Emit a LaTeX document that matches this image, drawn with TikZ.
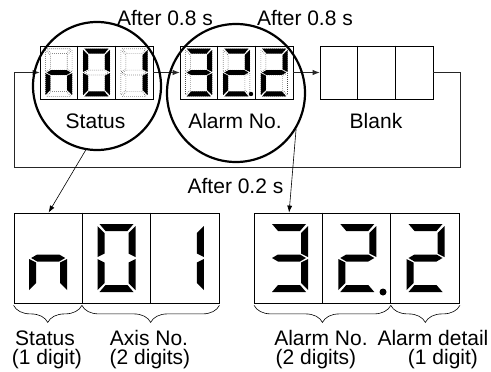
\documentclass[tikz,border=0pt]{standalone}
\usepackage{fontspec}
\setmainfont{Liberation Sans}
\usetikzlibrary{arrows.meta}
\usetikzlibrary{decorations.pathreplacing}

% seven segment outlines, digit box 38 x 68, y downwards
\newcommand{\sega}{(2,0) -- (36,0) -- (30,7) -- (8,7) -- cycle}
\newcommand{\segb}{(38,2) -- (38,33) -- (31,29.5) -- (31,9) -- cycle}
\newcommand{\segc}{(38,35) -- (38,66) -- (31,59) -- (31,38.5) -- cycle}
\newcommand{\segd}{(2,68) -- (36,68) -- (30,61) -- (8,61) -- cycle}
\newcommand{\sege}{(0,35) -- (0,66) -- (7,59) -- (7,38.5) -- cycle}
\newcommand{\segf}{(0,2) -- (0,33) -- (7,29.5) -- (7,9) -- cycle}
\newcommand{\segg}{(2,34) -- (8,30.5) -- (30,30.5) -- (36,34) -- (30,37.5) -- (8,37.5) -- cycle}

% big digit: position, lit segments
\newcommand{\bigled}[2]{%
  \begin{scope}[shift={#1}]
    \foreach \s in {#2} {\fill[segon] \csname seg\s\endcsname;}
  \end{scope}}
% small digit: all segments dotted, lit ones filled
\newcommand{\smallled}[2]{%
  \begin{scope}[shift={#1}, scale=0.7]
    \foreach \s in {a,b,c,d,e,f,g} {\draw[segoff] \csname seg\s\endcsname;}
    \foreach \s in {#2} {\fill[segon] \csname seg\s\endcsname;}
  \end{scope}}

\begin{document}
\begin{tikzpicture}[x=1pt, y=-1pt,
txt/.style={font=\fontsize{21}{24}\selectfont, inner sep=0pt, anchor=base},
panel/.style={draw, line width=0.8pt, minimum width=113pt, minimum height=53pt, inner sep=0pt},
bigpanel/.style={draw, line width=0.8pt, minimum width=205pt, minimum height=90pt, inner sep=0pt},
flow/.style={line width=0.8pt, draw=black!85, -{Latex[length=7pt, width=5.5pt]}},
pointer/.style={line width=0.6pt, -{Latex[length=7pt, width=5pt]}},
zoomring/.style={circle, draw, line width=2.2pt, inner sep=0pt},
brc/.style={decorate, decoration={brace, mirror, amplitude=17pt}, line width=0.6pt},
segon/.style={fill=black},
segoff/.style={draw=black!70, line width=0.6pt, dash pattern=on 0.6pt off 1.4pt}
]
\useasboundingbox (0,0) rectangle (491,372);

% small displays
\node[panel] (status) at (96.5,72.5) {};
\node[panel] (alarm) at (236.5,72.5) {};
\node[panel] (blank) at (376.5,72.5) {};
\foreach \p in {status,alarm,blank} {
  \draw[line width=0.8pt] ([xshift=37.7pt]\p.north west) -- ([xshift=37.7pt]\p.south west);
  \draw[line width=0.8pt] ([xshift=75.3pt]\p.north west) -- ([xshift=75.3pt]\p.south west);
}
\smallled{(45.5,48.7)}{c,e,g}
\smallled{(83.2,48.7)}{a,b,c,d,e,f}
\smallled{(120.9,48.7)}{b,c}
\smallled{(185.5,48.7)}{a,b,c,d,g}
\smallled{(223.2,48.7)}{a,b,d,e,g}
\smallled{(260.9,48.7)}{a,b,d,e,g}
\fill (251,94) circle (2.2pt);

\node[txt] (after1) at (165,26) {After 0.8 s};
\node[txt] (after2) at (305,26) {After 0.8 s};
\node[txt] (statuslabel) at (95.5,128) {Status};
\node[txt] (alarmlabel) at (235,128) {Alarm No.};
\node[txt] (blanklabel) at (376,128) {Blank};
\node[txt] (after3) at (235.5,193) {After 0.2 s};

% flow between displays
\coordinate (loopturn) at (14,167);
\draw[flow] (status.east) -- (alarm.west);
\draw[flow] (alarm.east) -- (blank.west);
\draw[flow] (blank.east) -- ++(27,0) |- (loopturn) |- (status.west);

\node[zoomring, minimum size=128pt] (statusring) at (97,86) {};
\node[zoomring, minimum size=138pt] (alarmring) at (236,93) {};

% enlarged displays
\node[bigpanel] (statusbig) at (116.5,258) {};
\node[bigpanel] (alarmbig) at (357,258) {};
\foreach \p in {statusbig,alarmbig} {
  \draw[line width=0.8pt] ([xshift=68.3pt]\p.north west) -- ([xshift=68.3pt]\p.south west);
  \draw[line width=0.8pt] ([xshift=136.7pt]\p.north west) -- ([xshift=136.7pt]\p.south west);
}
\bigled{(29.2,224)}{c,e,g}
\bigled{(97.5,224)}{a,b,c,d,e,f}
\bigled{(165.8,224)}{b,c}
\bigled{(270,224)}{a,b,c,d,g}
\bigled{(338.3,224)}{a,b,d,e,g}
\bigled{(406.5,224)}{a,b,d,e,g}
\fill (383,292) circle (3.5pt);

\draw[pointer] (statusring.-100) -- ([xshift=35pt]statusbig.north west);
\draw[pointer] (alarmring.-31) -- ([xshift=35pt]alarmbig.north west);

% braces and captions
\draw[brc] ([yshift=-2pt]statusbig.south west) -- ([yshift=-2pt, xshift=68.3pt]statusbig.south west);
\draw[brc] ([yshift=-2pt, xshift=68.3pt]statusbig.south west) -- ([yshift=-2pt]statusbig.south east);
\draw[brc] ([yshift=-2pt]alarmbig.south west) -- ([yshift=-2pt, xshift=136.7pt]alarmbig.south west);
\draw[brc] ([yshift=-2pt, xshift=136.7pt]alarmbig.south west) -- ([yshift=-2pt]alarmbig.south east);
\node[txt] (cap1) at (45,345) {Status};
\node[txt] (cap1b) at (47,364) {(1 digit)};
\node[txt] (cap2) at (149,345) {Axis No.};
\node[txt] (cap2b) at (150,364) {(2 digits)};
\node[txt] (cap3) at (321,345) {Alarm No.};
\node[txt] (cap3b) at (316,364) {(2 digits)};
\node[txt] (cap4) at (433,345) {Alarm detail};
\node[txt] (cap4b) at (443,364) {(1 digit)};
\end{tikzpicture}
\end{document}
